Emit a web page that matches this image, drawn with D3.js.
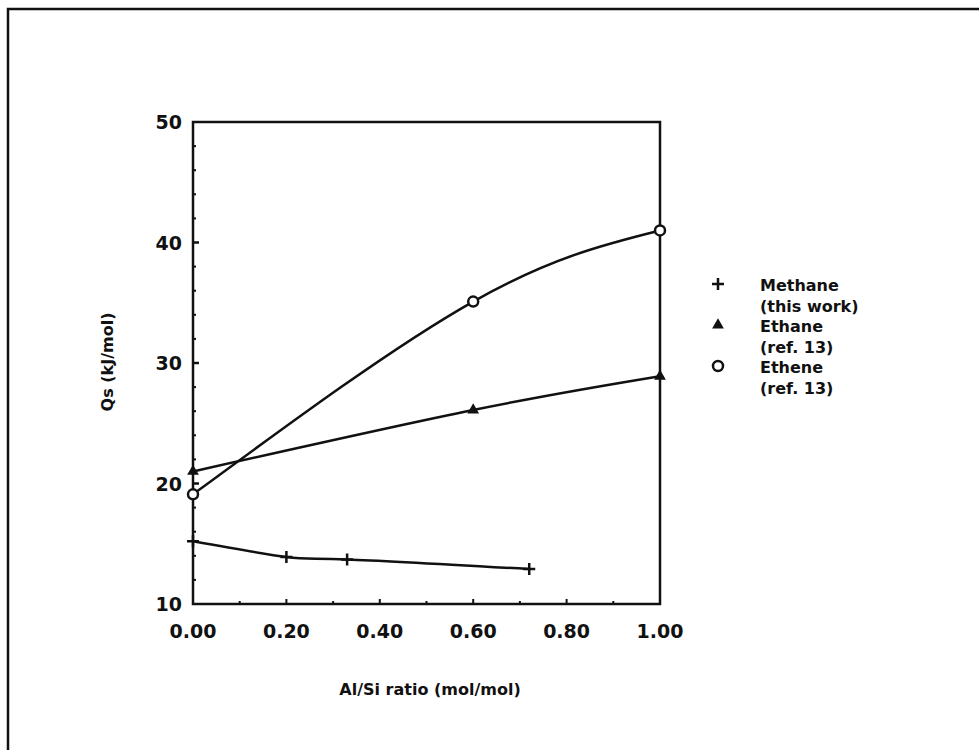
<!DOCTYPE html>
<html>
<head>
<meta charset="utf-8">
<script src="https://cdn.jsdelivr.net/npm/d3@7"></script>
<style>
  body { margin: 0; background: #fff; }
  svg text { font-family: "DejaVu Sans", sans-serif; font-weight: bold; fill: #111; }
</style>
</head>
<body>
<svg id="chart" width="979" height="750"></svg>
<script>
// values
const methaneX = [0.00, 0.20, 0.33, 0.72];
const methaneY = [15.2, 13.9, 13.7, 12.9];
const ethaneX = [0.00, 0.60, 1.00];
const ethaneY = [21.0, 26.1, 28.9];
const etheneX = [0.00, 0.60, 1.00];
const etheneY = [19.1, 35.1, 41.0];

const xTicks = [0, 0.2, 0.4, 0.6, 0.8, 1.0];
const yTicks = [10, 20, 30, 40, 50];
const legendLabels = [["Methane", "(this work)"], ["Ethane", "(ref. 13)"], ["Ethene", "(ref. 13)"]];

const svg = d3.select("#chart");
const ink = "#111";

// page frame (only left and top edges show in the scan)
svg.append("path")
  .attr("d", "M8,750 L8,9 L979,9")
  .attr("fill", "none").attr("stroke", ink).attr("stroke-width", 2.5);

const x = d3.scaleLinear().domain([0, 1]).range([193, 660]);
const y = d3.scaleLinear().domain([10, 50]).range([604, 122]);

// plot box
svg.append("rect")
  .attr("x", x(0)).attr("y", y(50))
  .attr("width", x(1) - x(0)).attr("height", y(10) - y(50))
  .attr("fill", "none").attr("stroke", ink).attr("stroke-width", 2.5);

// minor ticks, pointing inward
const yMinor = d3.range(12, 50, 2).filter(v => v % 10 !== 0);
svg.selectAll(".ymin").data(yMinor).join("line")
  .attr("x1", x(0)).attr("x2", x(0) + 3)
  .attr("y1", d => y(d)).attr("y2", d => y(d))
  .attr("stroke", ink).attr("stroke-width", 2);
svg.selectAll(".ymaj").data(yTicks.slice(1, -1)).join("line")
  .attr("x1", x(0)).attr("x2", x(0) + 6)
  .attr("y1", d => y(d)).attr("y2", d => y(d))
  .attr("stroke", ink).attr("stroke-width", 2.5);

const xMinor = d3.range(1, 10).map(i => i / 10);
svg.selectAll(".xmin").data(xMinor).join("line")
  .attr("x1", d => x(d)).attr("x2", d => x(d))
  .attr("y1", y(10)).attr("y2", d => y(10) - (Math.round(d * 10) % 2 === 0 ? 5 : 3))
  .attr("stroke", ink).attr("stroke-width", 2);

// tick labels
svg.selectAll(".ylab").data(yTicks).join("text")
  .attr("x", 182).attr("y", d => y(d) + 7)
  .attr("text-anchor", "end").attr("font-size", 19)
  .text(d => d);
svg.selectAll(".xlab").data(xTicks).join("text")
  .attr("x", d => x(d)).attr("y", 638)
  .attr("text-anchor", "middle").attr("font-size", 19)
  .text(d => d.toFixed(2));

// axis titles
svg.append("text")
  .attr("x", 430).attr("y", 695)
  .attr("text-anchor", "middle").attr("font-size", 16)
  .text("Al/Si ratio (mol/mol)");
svg.append("text")
  .attr("transform", "translate(113,362) rotate(-90)")
  .attr("text-anchor", "middle").attr("font-size", 16)
  .text("Qs (kJ/mol)");

// curves
const line = d3.line().x(d => x(d[0])).y(d => y(d[1])).curve(d3.curveNatural);
const series = [
  { xs: methaneX, ys: methaneY, mark: "plus" },
  { xs: ethaneX, ys: ethaneY, mark: "triangle" },
  { xs: etheneX, ys: etheneY, mark: "circle" }
];

function drawMark(g, type, cx, cy) {
  if (type === "plus") {
    g.append("path")
      .attr("d", `M${cx - 6},${cy} L${cx + 6},${cy} M${cx},${cy - 6} L${cx},${cy + 6}`)
      .attr("stroke", ink).attr("stroke-width", 2.5).attr("fill", "none");
  } else if (type === "triangle") {
    g.append("path")
      .attr("d", d3.symbol(d3.symbolTriangle, 60)())
      .attr("transform", `translate(${cx},${cy})`)
      .attr("fill", ink);
  } else {
    g.append("circle")
      .attr("cx", cx).attr("cy", cy).attr("r", 5)
      .attr("fill", "#fff").attr("stroke", ink).attr("stroke-width", 2.5);
  }
}

series.forEach(s => {
  const pts = s.xs.map((v, i) => [v, s.ys[i]]);
  svg.append("path")
    .attr("d", line(pts))
    .attr("fill", "none").attr("stroke", ink).attr("stroke-width", 2.5);
  const g = svg.append("g");
  pts.forEach(p => drawMark(g, s.mark, x(p[0]), y(p[1])));
});

// legend
const legendY = [285, 326, 367];
series.forEach((s, i) => {
  const g = svg.append("g");
  drawMark(g, s.mark, 718, legendY[i] - 1);
  svg.append("text").attr("x", 760).attr("y", legendY[i] + 6)
    .attr("font-size", 16).text(legendLabels[i][0]);
  svg.append("text").attr("x", 760).attr("y", legendY[i] + 27)
    .attr("font-size", 16).text(legendLabels[i][1]);
});
</script>
</body>
</html>
